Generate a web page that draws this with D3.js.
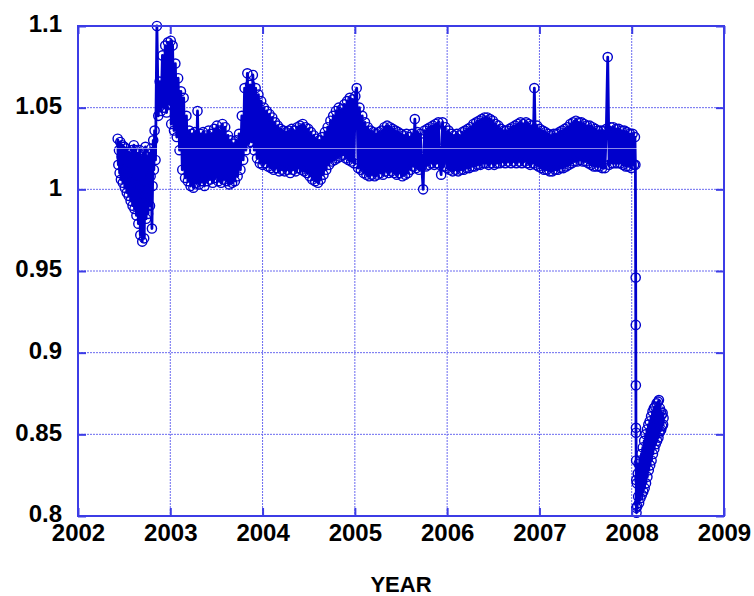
<!DOCTYPE html>
<html>
<head>
<meta charset="utf-8">
<script src="https://cdn.jsdelivr.net/npm/d3@7"></script>
<style>
  body { margin: 0; background: #fff; }
  svg text { font-family: "Liberation Sans", Arial, sans-serif; font-weight: bold; fill: #000; }
</style>
</head>
<body>
<div id="chart"></div>
<script>
// x axis / y axis ticks
const yearTicks = [2002, 2003, 2004, 2005, 2006, 2007, 2008, 2009];
const ratioTicks = [0.8, 0.85, 0.9, 0.95, 1, 1.05, 1.1];
const refLevel = 1.025;

const obs2002 = [
  [2002.430,1.031],[2002.437,1.015],[2002.444,1.024],[2002.451,1.010],[2002.458,1.029],[2002.465,1.006],
  [2002.472,1.020],[2002.479,1.027],[2002.486,1.004],[2002.493,1.016],[2002.500,1.026],[2002.507,1.001],
  [2002.514,1.012],[2002.521,1.025],[2002.528,0.998],[2002.535,1.010],[2002.542,1.023],[2002.549,0.996],
  [2002.556,1.008],[2002.563,1.022],[2002.570,0.993],[2002.577,1.005],[2002.584,1.024],[2002.591,0.990],
  [2002.598,1.004],[2002.605,1.027],[2002.612,0.988],[2002.619,1.004],[2002.626,1.024],[2002.633,0.984],
  [2002.640,1.002],[2002.647,1.022],[2002.654,0.979],[2002.661,1.000],[2002.668,1.024],[2002.675,0.972],
  [2002.682,0.995],[2002.689,1.020],[2002.696,0.968],[2002.703,0.992],[2002.710,1.022],[2002.717,0.970],
  [2002.724,0.995],[2002.731,1.026],[2002.738,0.982],[2002.745,1.000],[2002.752,1.020],[2002.759,0.985],
  [2002.766,1.004],[2002.773,1.022],[2002.780,0.990],[2002.787,1.008],[2002.794,1.025],[2002.801,0.976],
  [2002.808,1.002],[2002.815,1.030],[2002.822,1.012],[2002.830,1.036],[2002.840,1.018],
  [2002.855,1.100],[2002.870,1.045],[2002.885,1.066],[2002.900,1.048],[2002.915,1.082],[2002.930,1.050],
  [2002.945,1.088],[2002.960,1.047],[2002.975,1.090],[2002.990,1.052]
];
const obs2003 = [
  [2003.005,1.091],[2003.010,1.040],[2003.025,1.088],[2003.040,1.036],[2003.055,1.077],[2003.070,1.032],
  [2003.085,1.068],[2003.100,1.024],[2003.115,1.060],[2003.130,1.012],[2003.145,1.056],[2003.160,1.007],
  [2003.175,1.045],[2003.190,1.005],[2003.205,1.036],[2003.220,1.002],[2003.235,1.034],[2003.250,1.001],
  [2003.265,1.035],[2003.280,1.004],[2003.295,1.048],[2003.310,1.003],[2003.325,1.034],[2003.340,1.005],
  [2003.355,1.035],[2003.370,1.002],[2003.385,1.033],[2003.400,1.005],[2003.415,1.036],[2003.430,1.006],
  [2003.445,1.034],[2003.460,1.004],[2003.475,1.037],[2003.490,1.007],[2003.505,1.039],[2003.520,1.005],
  [2003.535,1.036],[2003.550,1.004],[2003.565,1.040],[2003.580,1.006],[2003.595,1.038],[2003.610,1.005],
  [2003.625,1.033],[2003.640,1.003],[2003.655,1.030],[2003.670,1.004],[2003.685,1.028],[2003.700,1.005],
  [2003.715,1.030],[2003.730,1.008],[2003.745,1.034],[2003.760,1.012],[2003.775,1.045],[2003.790,1.018],
  [2003.805,1.062],[2003.820,1.024],[2003.835,1.071],[2003.850,1.028],[2003.865,1.064],[2003.880,1.029],
  [2003.895,1.070],[2003.910,1.024],[2003.925,1.062],[2003.940,1.019],[2003.955,1.058],[2003.970,1.016],
  [2003.985,1.054]
];
const obs2004 = [
  [2004.000,1.015],[2004.015,1.050],[2004.030,1.016],[2004.045,1.048],[2004.060,1.014],[2004.075,1.046],
  [2004.090,1.013],[2004.105,1.044],[2004.120,1.012],[2004.135,1.041],[2004.150,1.013],[2004.165,1.039],
  [2004.180,1.011],[2004.195,1.037],[2004.210,1.012],[2004.225,1.036],[2004.240,1.011],[2004.255,1.035],
  [2004.270,1.012],[2004.285,1.036],[2004.300,1.010],[2004.315,1.037],[2004.330,1.012],[2004.345,1.036],
  [2004.360,1.011],[2004.375,1.038],[2004.390,1.013],[2004.405,1.039],[2004.420,1.012],[2004.435,1.040],
  [2004.450,1.011],[2004.465,1.038],[2004.480,1.010],[2004.495,1.037],[2004.510,1.008],[2004.525,1.035],
  [2004.540,1.006],[2004.555,1.033],[2004.570,1.005],[2004.585,1.031],[2004.600,1.004],[2004.615,1.030],
  [2004.630,1.006],[2004.645,1.032],[2004.660,1.009],[2004.675,1.035],[2004.690,1.012],[2004.705,1.038],
  [2004.720,1.015],[2004.735,1.042],[2004.750,1.017],[2004.765,1.045],[2004.780,1.018],[2004.795,1.048],
  [2004.810,1.019],[2004.825,1.050],[2004.840,1.020],[2004.855,1.049],[2004.870,1.021],[2004.885,1.052],
  [2004.900,1.019],[2004.915,1.054],[2004.930,1.018],[2004.945,1.056],[2004.960,1.017],[2004.975,1.055],
  [2004.990,1.016]
];
const obs2005 = [
  [2005.005,1.057],[2005.020,1.062],[2005.035,1.013],[2005.050,1.050],[2005.065,1.012],[2005.080,1.045],
  [2005.095,1.010],[2005.110,1.041],[2005.125,1.009],[2005.140,1.038],[2005.155,1.008],[2005.170,1.036],
  [2005.185,1.009],[2005.200,1.035],[2005.215,1.008],[2005.230,1.034],[2005.245,1.009],[2005.260,1.035],
  [2005.275,1.010],[2005.290,1.036],[2005.305,1.009],[2005.320,1.038],[2005.335,1.011],[2005.350,1.039],
  [2005.365,1.010],[2005.380,1.038],[2005.395,1.011],[2005.410,1.037],[2005.425,1.010],[2005.440,1.036],
  [2005.455,1.009],[2005.470,1.035],[2005.485,1.010],[2005.500,1.034],[2005.515,1.008],[2005.530,1.033],
  [2005.545,1.009],[2005.560,1.034],[2005.575,1.010],[2005.590,1.032],[2005.605,1.012],[2005.620,1.034],
  [2005.635,1.014],[2005.650,1.043],[2005.665,1.013],[2005.680,1.035],[2005.695,1.012],[2005.710,1.034],
  [2005.725,1.014],[2005.740,1.000],[2005.755,1.036],[2005.770,1.014],[2005.785,1.037],[2005.800,1.015],
  [2005.815,1.038],[2005.830,1.016],[2005.845,1.039],[2005.860,1.015],[2005.875,1.040],[2005.890,1.016],
  [2005.905,1.041],[2005.920,1.015],[2005.935,1.009],[2005.950,1.041],[2005.965,1.014],[2005.980,1.038]
];
const obs2006 = [
  [2006.000,1.013],[2006.015,1.036],[2006.030,1.012],[2006.045,1.034],[2006.060,1.011],[2006.075,1.033],
  [2006.090,1.012],[2006.105,1.034],[2006.120,1.011],[2006.135,1.033],[2006.150,1.012],[2006.165,1.035],
  [2006.180,1.012],[2006.195,1.036],[2006.210,1.013],[2006.225,1.037],[2006.240,1.013],[2006.255,1.038],
  [2006.270,1.014],[2006.285,1.040],[2006.300,1.014],[2006.315,1.041],[2006.330,1.015],[2006.345,1.042],
  [2006.360,1.015],[2006.375,1.043],[2006.390,1.016],[2006.405,1.044],[2006.420,1.016],[2006.435,1.044],
  [2006.450,1.015],[2006.465,1.043],[2006.480,1.016],[2006.495,1.042],[2006.510,1.015],[2006.525,1.040],
  [2006.540,1.016],[2006.555,1.039],[2006.570,1.016],[2006.585,1.037],[2006.600,1.017],[2006.615,1.036],
  [2006.630,1.016],[2006.645,1.036],[2006.660,1.017],[2006.675,1.037],[2006.690,1.016],[2006.705,1.038],
  [2006.720,1.017],[2006.735,1.039],[2006.750,1.016],[2006.765,1.040],[2006.780,1.017],[2006.795,1.041],
  [2006.810,1.016],[2006.825,1.040],[2006.840,1.017],[2006.855,1.041],[2006.870,1.016],[2006.885,1.040],
  [2006.900,1.015],[2006.915,1.039],[2006.930,1.016],[2006.945,1.062],[2006.960,1.015],[2006.975,1.039],
  [2006.990,1.014]
];
const obs2007 = [
  [2007.005,1.037],[2007.020,1.013],[2007.035,1.036],[2007.050,1.012],[2007.065,1.035],[2007.080,1.012],
  [2007.095,1.034],[2007.110,1.011],[2007.125,1.033],[2007.140,1.011],[2007.155,1.034],[2007.170,1.012],
  [2007.185,1.034],[2007.200,1.012],[2007.215,1.035],[2007.230,1.013],[2007.245,1.036],[2007.260,1.013],
  [2007.275,1.037],[2007.290,1.014],[2007.305,1.038],[2007.320,1.015],[2007.335,1.040],[2007.350,1.016],
  [2007.365,1.041],[2007.380,1.017],[2007.395,1.042],[2007.410,1.017],[2007.425,1.041],[2007.440,1.018],
  [2007.455,1.041],[2007.470,1.017],[2007.485,1.040],[2007.500,1.017],[2007.515,1.039],[2007.530,1.016],
  [2007.545,1.039],[2007.560,1.015],[2007.575,1.038],[2007.590,1.014],[2007.605,1.037],[2007.620,1.014],
  [2007.635,1.036],[2007.650,1.014],[2007.665,1.036],[2007.680,1.013],[2007.695,1.036],[2007.710,1.013],
  [2007.725,1.037],[2007.740,1.081],[2007.755,1.015],[2007.770,1.038],[2007.785,1.016],[2007.800,1.038],
  [2007.815,1.016],[2007.830,1.037],[2007.845,1.016],[2007.860,1.037],[2007.875,1.016],[2007.890,1.036],
  [2007.905,1.015],[2007.920,1.036],[2007.935,1.014],[2007.950,1.035],[2007.965,1.014],[2007.980,1.034],
  [2007.995,1.013]
];
const obs2008 = [
  [2008.010,1.034],[2008.025,1.015],[2008.035,1.032],[2008.040,1.015],
  [2008.043,0.946],[2008.044,0.917],[2008.045,0.880],[2008.046,0.854],[2008.047,0.851],
  [2008.048,0.834],[2008.049,0.822],[2008.050,0.805],[2008.052,0.802],
  [2008.055,0.820],[2008.060,0.806],[2008.065,0.826],[2008.070,0.812],[2008.075,0.832],[2008.080,0.808],
  [2008.085,0.822],[2008.090,0.834],[2008.095,0.811],[2008.100,0.826],[2008.105,0.838],[2008.110,0.813],
  [2008.115,0.830],[2008.120,0.842],[2008.125,0.815],[2008.130,0.834],[2008.135,0.846],[2008.140,0.817],
  [2008.145,0.836],[2008.150,0.850],[2008.155,0.820],[2008.160,0.840],[2008.165,0.853],[2008.170,0.824],
  [2008.175,0.843],[2008.180,0.856],[2008.185,0.828],[2008.190,0.846],[2008.195,0.858],[2008.200,0.831],
  [2008.205,0.849],[2008.210,0.861],[2008.215,0.834],[2008.220,0.852],[2008.225,0.864],[2008.230,0.838],
  [2008.235,0.855],[2008.240,0.866],[2008.245,0.841],[2008.250,0.858],[2008.255,0.867],[2008.260,0.844],
  [2008.265,0.860],[2008.270,0.869],[2008.275,0.846],[2008.280,0.862],[2008.285,0.870],[2008.290,0.848],
  [2008.295,0.871],[2008.300,0.851],[2008.305,0.866],[2008.310,0.852],[2008.315,0.864],[2008.320,0.853],
  [2008.325,0.862],[2008.330,0.855],[2008.335,0.863],[2008.340,0.856],[2008.345,0.860]
];

const series = [].concat(obs2002, obs2003, obs2004, obs2005, obs2006, obs2007, obs2008);

const width = 754, height = 596;
const margin = {left: 78, right: 30, top: 26, bottom: 80};
const dataColor = "#0000cc";
const frameColor = "#3c3ce6";

const svg = d3.select("#chart").append("svg")
  .attr("width", width)
  .attr("height", height);

const x = d3.scaleLinear()
  .domain([2002, 2009])
  .range([margin.left, width - margin.right]);
const y = d3.scaleLinear()
  .domain([0.8, 1.1])
  .range([height - margin.bottom, margin.top]);

// dotted grid
svg.append("g")
  .selectAll("line")
  .data(yearTicks.slice(1, -1))
  .enter().append("line")
  .attr("x1", d => x(d)).attr("x2", d => x(d))
  .attr("y1", y(1.1)).attr("y2", y(0.8))
  .attr("stroke", "#6a6af0")
  .attr("stroke-width", 1)
  .attr("stroke-dasharray", "2,1");
svg.append("g")
  .selectAll("line")
  .data(ratioTicks.slice(1, -1))
  .enter().append("line")
  .attr("x1", x(2002)).attr("x2", x(2009))
  .attr("y1", d => y(d)).attr("y2", d => y(d))
  .attr("stroke", "#6a6af0")
  .attr("stroke-width", 1)
  .attr("stroke-dasharray", "2,1");

// data: line + open circles
const line = d3.line()
  .x(d => x(d[0]))
  .y(d => y(d[1]));

svg.append("path")
  .datum(series)
  .attr("d", line)
  .attr("fill", "none")
  .attr("stroke", dataColor)
  .attr("stroke-width", 2.8)
  .attr("stroke-linejoin", "round");

svg.append("g")
  .selectAll("circle")
  .data(series)
  .enter().append("circle")
  .attr("cx", d => x(d[0]))
  .attr("cy", d => y(d[1]))
  .attr("r", 4.6)
  .attr("fill", "none")
  .attr("stroke", dataColor)
  .attr("stroke-width", 1.4);

// faint reference line through the band
svg.append("line")
  .attr("x1", x(2002)).attr("x2", x(2009))
  .attr("y1", y(refLevel)).attr("y2", y(refLevel))
  .attr("stroke", "#ffffff")
  .attr("stroke-opacity", 0.55)
  .attr("stroke-width", 1);

// axes with inward ticks on all four sides
svg.append("g")
  .attr("transform", "translate(0," + y(0.8) + ")")
  .call(d3.axisBottom(x).tickValues(yearTicks).tickSize(-8).tickPadding(8).tickFormat(d3.format("d")))
  .call(g => g.select(".domain").remove());
svg.append("g")
  .attr("transform", "translate(0," + y(1.1) + ")")
  .call(d3.axisTop(x).tickValues(yearTicks).tickSize(-8).tickFormat(""))
  .call(g => g.select(".domain").remove());
const yAxis = svg.append("g")
  .attr("transform", "translate(" + x(2002) + ",0)")
  .call(d3.axisLeft(y).tickValues(ratioTicks).tickSize(-8).tickPadding(16).tickFormat(d => String(d)))
  .call(g => g.select(".domain").remove());
svg.append("g")
  .attr("transform", "translate(" + x(2009) + ",0)")
  .call(d3.axisRight(y).tickValues(ratioTicks).tickSize(-8).tickFormat(""))
  .call(g => g.select(".domain").remove());

svg.selectAll(".tick line")
  .attr("stroke", frameColor)
  .attr("stroke-width", 2);
svg.selectAll(".tick text")
  .attr("font-size", 24)
  .attr("font-weight", "bold")
  .attr("font-family", "Liberation Sans, Arial, sans-serif")
  .attr("fill", "#000");
yAxis.selectAll(".tick text").attr("dy", "0.24em");

// frame
svg.append("rect")
  .attr("x", x(2002)).attr("y", y(1.1))
  .attr("width", x(2009) - x(2002))
  .attr("height", y(0.8) - y(1.1))
  .attr("fill", "none")
  .attr("stroke", frameColor)
  .attr("stroke-width", 2);

svg.append("text")
  .attr("x", (x(2002) + x(2009)) / 2)
  .attr("y", 592)
  .attr("text-anchor", "middle")
  .attr("font-size", 22)
  .text("YEAR");
</script>
</body>
</html>
